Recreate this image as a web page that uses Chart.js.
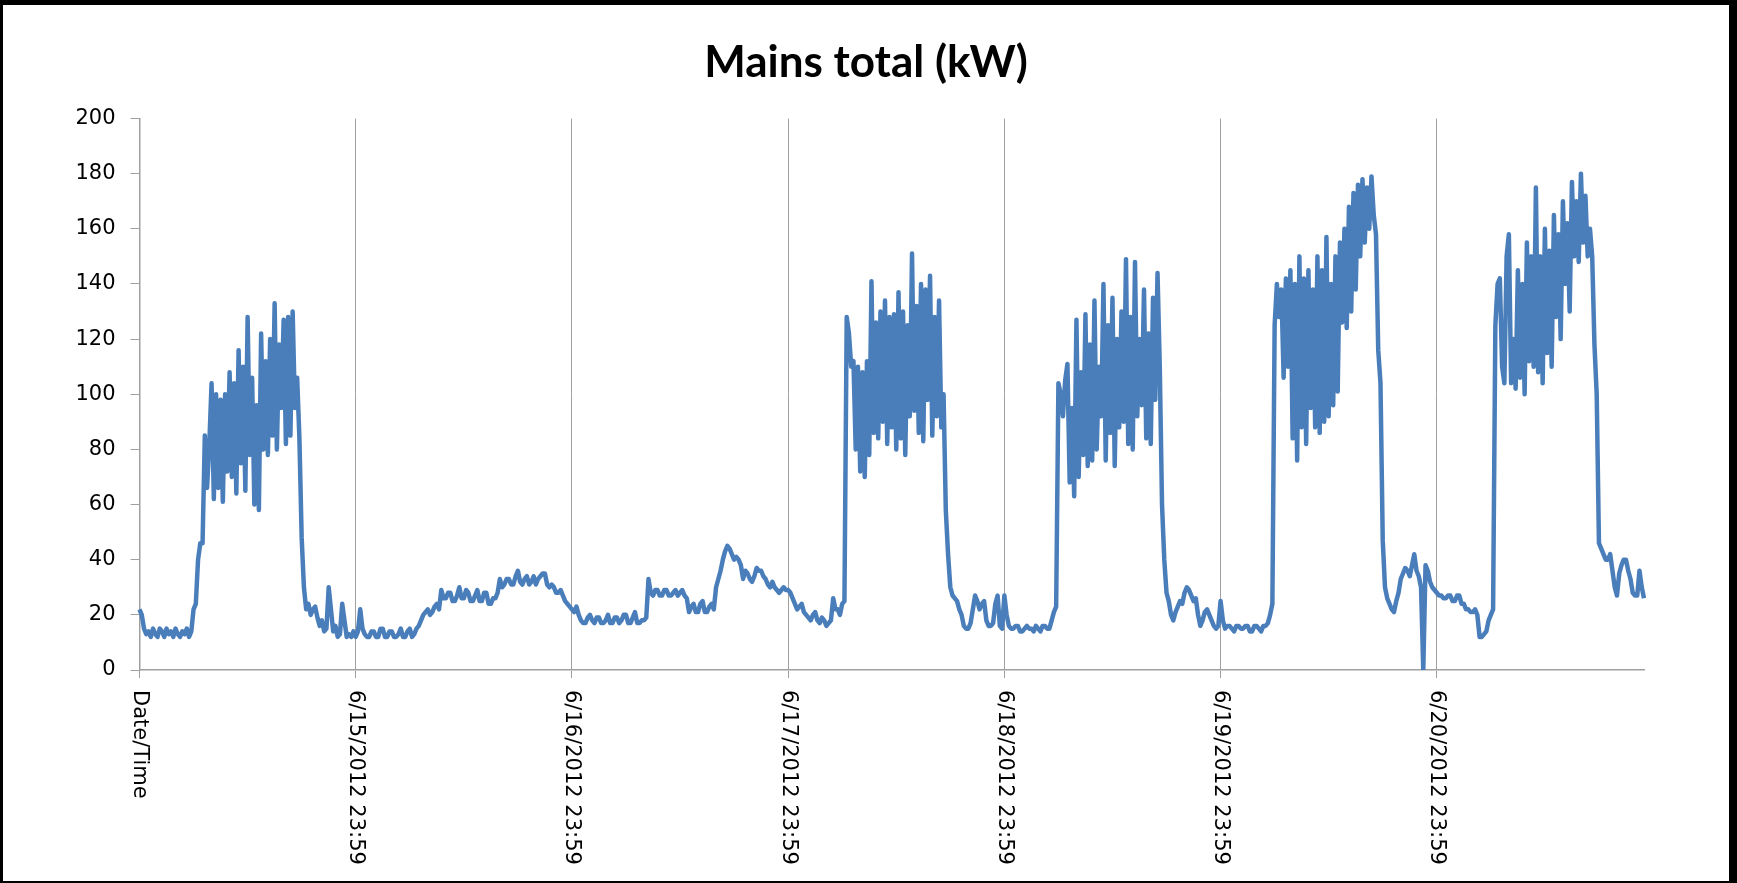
<!DOCTYPE html>
<html>
<head>
<meta charset="utf-8">
<title>Mains total (kW)</title>
<script src="https://cdn.jsdelivr.net/npm/chart.js@4.4.1/dist/chart.umd.min.js"></script>
<style>
    html, body { margin: 0; padding: 0; background: #000; overflow: hidden; }
    #frame { position: absolute; left: 3px; top: 5px; width: 1726px; height: 876px; background: #fff; }
</style>
</head>
<body>
<div id="frame"><canvas id="mains_graph" width="1726" height="876"></canvas></div>
<script>
// tick labels, one per day (the first one is the column header that ended up on the axis)
const dayLabels = ['Date/Time', '6/15/2012 23:59', '6/16/2012 23:59', '6/17/2012 23:59',
    '6/18/2012 23:59', '6/19/2012 23:59', '6/20/2012 23:59'];
const pointsPerDay = 96; // quarter-hour readings

// mains total in kW, one array per day
const jun15 = [22, 20, 15, 13, 14, 12, 15, 13, 12, 15, 14, 12, 15, 13, 14, 12, 15, 13, 12, 14,
    13, 15, 12, 14, 22, 24, 40, 46, 46, 85, 66, 82,
    104, 62, 100, 66, 98, 61, 100, 72, 108, 70, 104, 64, 116, 75, 110, 65, 128, 78, 106, 60,
    96, 58, 122, 80, 112, 78, 120, 85, 133, 80, 118, 95, 127, 82, 128, 85, 130, 95,
    106, 84, 48, 30,
    22, 24, 20, 22, 23, 19, 16, 18, 14, 15, 30, 22, 14, 16, 12, 13, 24, 18, 12, 13, 12, 14];
const jun16 = [12, 14, 22, 15, 13, 12, 12, 14, 14, 12, 12, 15, 15, 12, 12, 14, 14, 12, 12, 13,
    15, 12, 12, 14, 15, 12, 13, 15, 16, 18, 20, 21, 22, 20, 21, 23, 24, 22, 29, 26,
    26, 28, 28, 25, 25, 27, 30, 26, 26, 29, 28, 25, 25, 27, 29, 25, 25, 28, 28, 24,
    24, 26, 26, 28, 33, 30, 31, 33, 33, 31, 31, 34, 36, 32, 31, 33, 34, 31, 32, 34,
    31, 33, 34, 35, 35, 31, 30, 31, 30, 28, 28, 29, 27, 25, 24, 23];
const jun17 = [22, 21, 23, 20, 18, 17, 17, 19, 20, 18, 17, 19, 19, 17, 17, 18, 20, 17, 17, 19,
    19, 17, 18, 20, 20, 17, 17, 19, 21, 17, 17, 18, 18, 19, 33, 28, 27, 29, 29, 27,
    27, 29, 29, 27, 27, 28, 29, 27, 28, 29, 27, 26, 21, 23, 24, 21, 21, 24, 25, 21,
    21, 23, 24, 22, 30, 33, 36, 40, 43, 45, 44, 42, 40, 41, 40, 38, 33, 36, 35, 33,
    32, 34, 37, 36, 36, 34, 33, 31, 30, 32, 30, 29, 28, 29, 30, 29];
const jun18 = [29, 28, 26, 24, 22, 23, 24, 21, 20, 19, 18, 20, 21, 18, 17, 19, 18, 16, 17, 18,
    26, 22, 22, 20, 24, 25, 128, 122, 110, 112,
    80, 110, 72, 108, 70, 112, 78, 141, 86, 126, 84, 130, 90, 134, 82, 128, 88, 129, 80, 137,
    84, 130, 78, 125, 92, 151, 94, 132, 86, 140, 83, 138, 98, 143, 85, 128, 92, 134, 88, 100,
    58, 42,
    30, 27, 26, 25, 22, 20, 16, 15, 15, 17, 22, 27, 25, 22, 24, 25, 18, 16, 16, 17, 24, 27, 16, 15];
const jun19 = [27, 20, 16, 15, 15, 16, 16, 14, 14, 15, 16, 15, 15, 14, 16, 15, 14, 16, 16, 15,
    15, 18, 21, 23,
    104, 100, 92, 105, 111, 68, 95, 63, 127, 70, 108, 78, 129, 74, 118, 76, 134, 80, 110, 92,
    140, 76, 125, 86, 135, 74, 120, 88, 130, 90, 149, 82, 128, 80, 148, 92, 120, 96, 138, 84,
    122, 82, 135, 98, 144, 110, 60, 40,
    28, 25, 20, 18, 21, 23, 25, 24, 28, 30, 29, 27, 25, 26, 20, 16, 18, 21, 22, 20, 18, 16, 15, 16];
const jun20 = [25, 18, 15, 16, 16, 15, 14, 16, 16, 15, 15, 16, 16, 14, 14, 16, 16, 15, 14, 16,
    16, 17, 20, 24,
    125, 140, 128, 138, 106, 142, 110, 145, 84, 140, 76, 150, 88, 142, 82, 145, 95, 138, 88, 150,
    86, 145, 90, 157, 92, 140, 96, 150, 101, 155, 126, 160, 124, 168, 130, 173, 138, 176, 150, 178,
    155, 175, 160, 179, 165, 158, 116, 104,
    47, 30, 26, 24, 22, 21, 25, 28, 33, 35, 37, 36, 34, 38, 42, 36, 34, 30, 0, 38, 36, 32, 30, 29];
const jun21 = [28, 27, 27, 26, 26, 27, 27, 25, 25, 27, 27, 24, 24, 22, 22, 21, 21, 22, 20, 12,
    12, 13, 14, 18, 20, 22,
    125, 140, 142, 110, 104, 150, 158, 104, 120, 102, 145, 106, 140, 100, 155, 112, 150, 110, 175, 108,
    150, 104, 160, 115, 152, 110, 165, 128, 158, 120, 170, 140, 162, 130, 177, 150, 170, 148, 180, 155,
    172, 150, 160, 150, 118, 100,
    46, 44, 42, 40, 40, 42, 36, 30, 27, 35, 38, 40, 40, 36, 33, 28, 27, 27, 36, 30, 26];

const mains = [].concat(jun15, jun16, jun17, jun18, jun19, jun20, jun21);
const categories = mains.map((v, i) => i % pointsPerDay === 0 ? dayLabels[i / pointsPerDay] : '');

const AXIS_GREY = '#a0a0a0';

// Excel-style labels that read top to bottom (Chart.js only rotates the other way)
const downwardLabels = {
    id: 'downwardLabels',
    afterDraw(chart) {
        const xs = chart.scales.x;
        const ctx = chart.ctx;
        ctx.save();
        ctx.font = '21px "DejaVu Sans"';
        ctx.fillStyle = '#000';
        ctx.textAlign = 'left';
        ctx.textBaseline = 'middle';
        xs.ticks.forEach(function(t) {
            ctx.save();
            ctx.translate(xs.getPixelForValue(t.value), xs.top + 20);
            ctx.rotate(Math.PI / 2);
            ctx.fillText(categories[t.value], 0, 0);
            ctx.restore();
        });
        ctx.restore();
    }
};

let chart = new Chart(document.getElementById('mains_graph'), {
    type: 'line',
    data: {
        labels: categories,
        datasets: [{
            label: 'Mains total (kW)',
            data: mains,
            borderColor: '#4a7ebb',
            borderWidth: 4.5,
            borderJoinStyle: 'round',
            pointRadius: 0,
            tension: 0,
            fill: false
        }]
    },
    options: {
        responsive: false,
        animation: false,
        devicePixelRatio: 1,
        layout: { padding: 0 },
        plugins: {
            legend: { display: false },
            tooltip: { enabled: false },
            title: {
                display: true,
                text: 'Mains total (kW)',
                color: '#000',
                font: { family: 'Lato', size: 44, weight: 'bold' },
                padding: { top: 31, bottom: 29.7 }
            }
        },
        scales: {
            x: {
                grid: { color: AXIS_GREY, lineWidth: 1, drawTicks: true, tickLength: 8 },
                border: { color: AXIS_GREY, width: 1.5 },
                ticks: { display: false, autoSkip: false },
                afterBuildTicks: function(axis) {
                    axis.ticks = axis.ticks.filter(t => categories[t.value] !== '');
                },
                afterFit: function(axis) { axis.height = 211; }
            },
            y: {
                min: 0,
                max: 200,
                ticks: { stepSize: 20, color: '#000', padding: 15, font: { family: 'DejaVu Sans', size: 21 } },
                grid: { drawOnChartArea: false, drawTicks: true, tickLength: 9, color: AXIS_GREY },
                border: { color: AXIS_GREY, width: 1.5 },
                afterFit: function(axis) { axis.width = 136.5; }
            },
            // empty right-hand margin, so the title stays centred on the whole frame
            spacer: {
                position: 'right',
                ticks: { display: false },
                grid: { display: false },
                border: { display: false },
                afterFit: function(axis) { axis.width = 85; }
            }
        }
    },
    plugins: [downwardLabels]
});
</script>
</body>
</html>
